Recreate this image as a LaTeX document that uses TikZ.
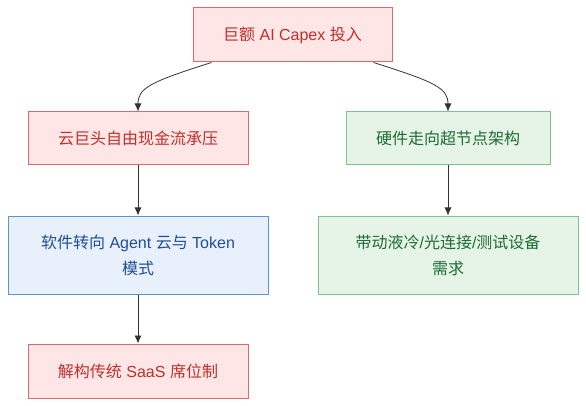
\documentclass[tikz,border=0pt]{standalone}
\usepackage{fontspec}
\setmainfont{Liberation Sans}
\newfontfamily\cjk{Noto Sans CJK SC}
\usetikzlibrary{arrows.meta,calc}
\definecolor{redfill}{HTML}{FFE6E6}
\definecolor{redline}{HTML}{DB6B6B}
\definecolor{redtext}{HTML}{C0302B}
\definecolor{bluefill}{HTML}{E8F0FC}
\definecolor{blueline}{HTML}{5B95D3}
\definecolor{bluetext}{HTML}{1F4E96}
\definecolor{greenfill}{HTML}{E6F4E8}
\definecolor{greenline}{HTML}{7CC48A}
\definecolor{greentext}{HTML}{1E6B34}
\definecolor{edgecol}{HTML}{333333}
\tikzset{
  box/.style={draw, line width=1pt, inner sep=0pt, align=center,
    font=\fontsize{16}{26}\selectfont},
  redbox/.style={box, fill=redfill, draw=redline, text=redtext},
  bluebox/.style={box, fill=bluefill, draw=blueline, text=bluetext},
  greenbox/.style={box, fill=greenfill, draw=greenline, text=greentext},
  conn/.style={draw=edgecol, line width=0.8pt, -{Latex[length=8pt,width=7pt]}}
}
\begin{document}
\begin{tikzpicture}[x=1pt,y=-1pt]
\useasboundingbox (0,0) rectangle (586,406);
\node[redbox, minimum width=199pt, minimum height=54pt] (top) at (292.5,35) {{\cjk 巨额} AI Capex {\cjk 投入}};
\node[redbox, minimum width=220pt, minimum height=53pt] (l1) at (138,138.5) {\cjk 云巨头自由现金流承压};
\node[greenbox, minimum width=204pt, minimum height=53pt] (r1) at (448,138.5) {\cjk 硬件走向超节点架构};
\node[bluebox, minimum width=260pt, minimum height=78pt] (l2) at (138,255) {{\cjk 软件转向} Agent {\cjk 云与} Token\\{\cjk 模式}};
\node[greenbox, minimum width=260pt, minimum height=78pt] (r2) at (448,255) {{\cjk 带动液冷}/{\cjk 光连接}/{\cjk 测试设备}\\{\cjk 需求}};
\node[redbox, minimum width=220pt, minimum height=54pt] (l3) at (138,371) {{\cjk 解构传统} SaaS {\cjk 席位制}};
\draw[conn] ($(top.south west)+(19,0)$) .. controls (150,82) and (138,88) .. (l1.north);
\draw[conn] ($(top.south east)+(-19,0)$) .. controls (435,82) and (448,88) .. (r1.north);
\draw[conn] (l1) -- (l2);
\draw[conn] (r1) -- (r2);
\draw[conn] (l2) -- (l3);
\end{tikzpicture}
\end{document}
